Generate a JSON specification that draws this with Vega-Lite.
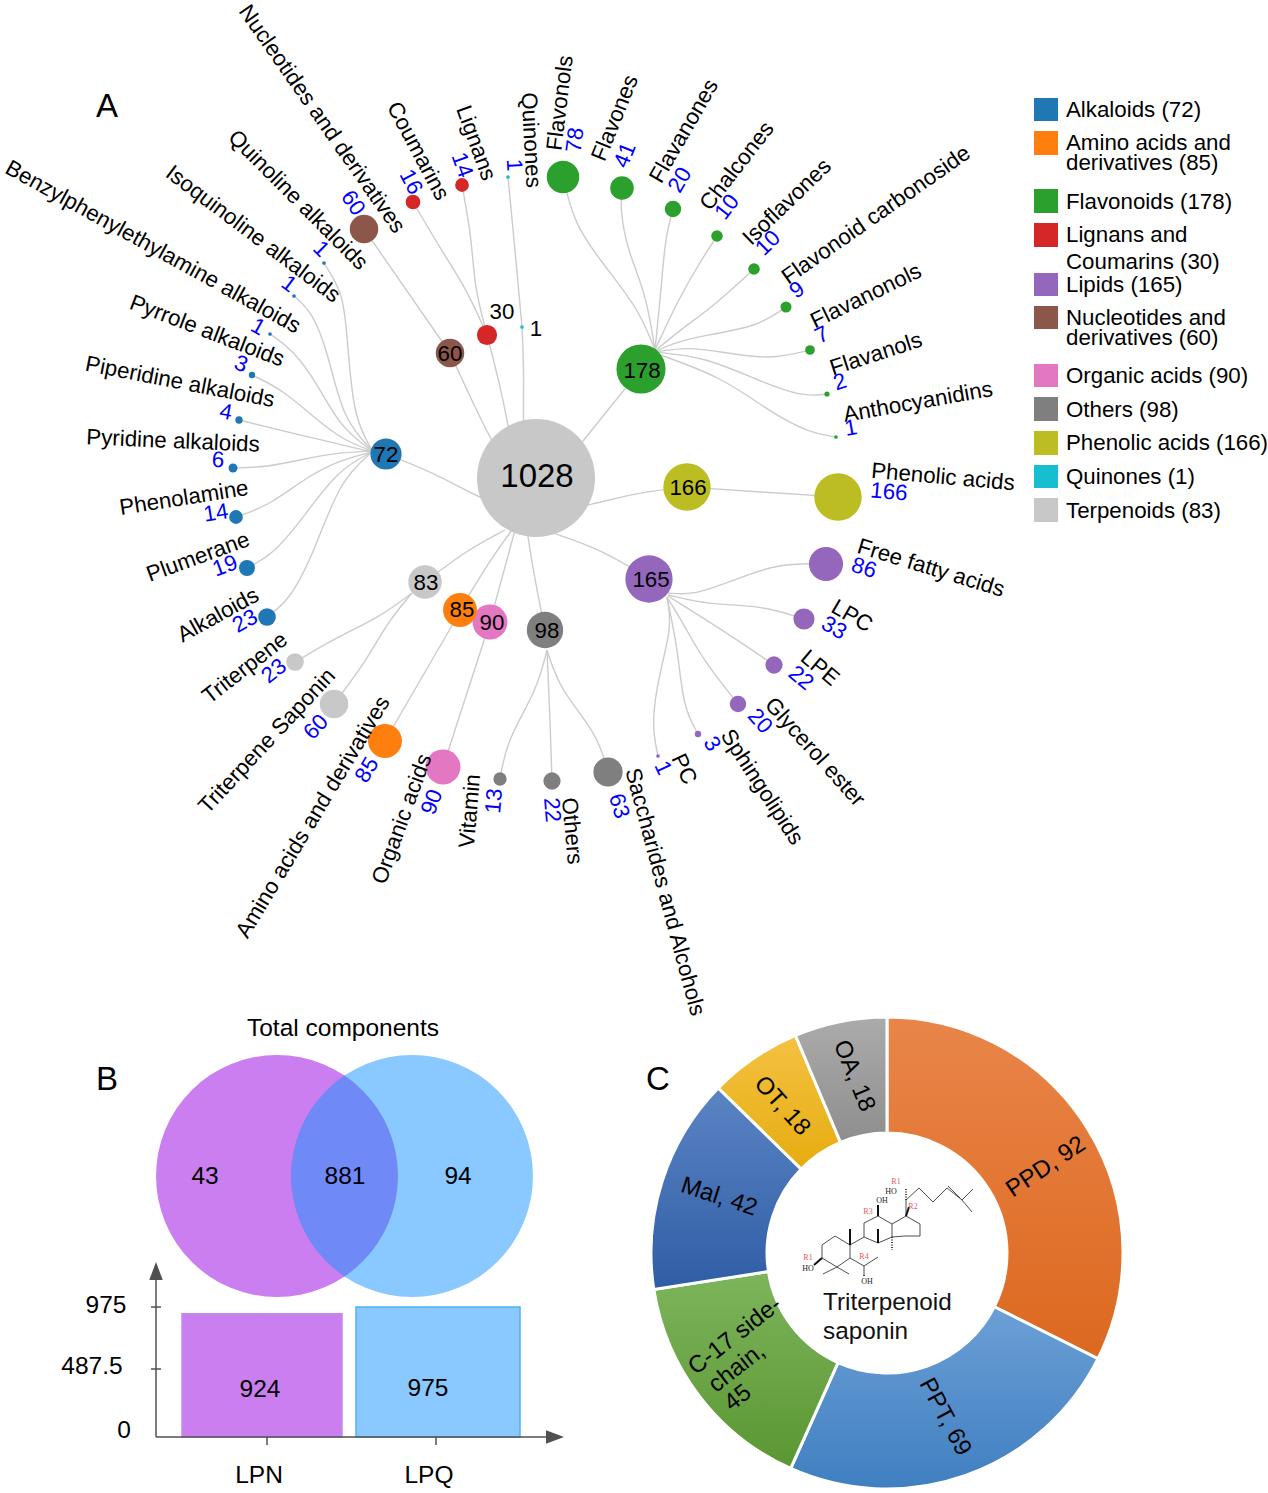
{"$schema":"https://vega.github.io/schema/vega-lite/v6.json","width":1268,"height":1493,"padding":0,"autosize":{"type":"none"},"background":"white","config":{"view":{"stroke":null},"font":"Liberation Sans"},
"encoding":{"x":{"field":"x","type":"quantitative","axis":null,"scale":{"domain":[0,1268],"nice":false,"zero":false}}},
"resolve":{"scale":{"y":"independent"}},
"layer":[
{"data":{"values":[{"s":"LPN","v":924,"x":182,"x2":342},{"s":"LPQ","v":975,"x":356,"x2":520}]},
"mark":{"type":"rect","strokeWidth":1.5},
"encoding":{"x2":{"field":"x2"},"y":{"field":"v","type":"quantitative","axis":null,"scale":{"domain":[0,975],"range":[1437,1307],"nice":false,"zero":false}},"y2":{"datum":0},
"fill":{"field":"s","type":"nominal","legend":null,"scale":{"domain":["LPN","LPQ"],"range":["#cb7eef","#89c9ff"]}},
"stroke":{"field":"s","type":"nominal","legend":null,"scale":{"domain":["LPN","LPQ"],"range":["#c08cec","#4db4ee"]}}}},
{"encoding":{"y":{"field":"y","type":"quantitative","axis":null,"scale":{"domain":[1493,0],"nice":false,"zero":false}}},
"layer":[
{"data":{"values":[
{"l":"Quinoline","o":0,"x":324,"y":263},{"l":"Quinoline","o":1,"x":343,"y":293},{"l":"Quinoline","o":2,"x":347,"y":333},{"l":"Quinoline","o":3,"x":353,"y":417},{"l":"Quinoline","o":4,"x":372,"y":450},
{"l":"Isoquinoline","o":0,"x":294,"y":296},{"l":"Isoquinoline","o":1,"x":313,"y":313},{"l":"Isoquinoline","o":2,"x":328,"y":353},{"l":"Isoquinoline","o":3,"x":343,"y":420},{"l":"Isoquinoline","o":4,"x":372,"y":450},
{"l":"Benzyl","o":0,"x":270,"y":334},{"l":"Benzyl","o":1,"x":293,"y":350},{"l":"Benzyl","o":2,"x":317,"y":383},{"l":"Benzyl","o":3,"x":340,"y":427},{"l":"Benzyl","o":4,"x":372,"y":451},
{"l":"Pyrrole","o":0,"x":252,"y":375},{"l":"Pyrrole","o":1,"x":283,"y":390},{"l":"Pyrrole","o":2,"x":317,"y":420},{"l":"Pyrrole","o":3,"x":343,"y":440},{"l":"Pyrrole","o":4,"x":372,"y":451},
{"l":"Piperidine","o":0,"x":239,"y":420},{"l":"Piperidine","o":1,"x":300,"y":435},{"l":"Piperidine","o":2,"x":372,"y":452},
{"l":"Pyridine","o":0,"x":233,"y":468},{"l":"Pyridine","o":1,"x":267,"y":467},{"l":"Pyridine","o":2,"x":300,"y":460},{"l":"Pyridine","o":3,"x":333,"y":453},{"l":"Pyridine","o":4,"x":372,"y":451},
{"l":"Phenolamine","o":0,"x":236,"y":517},{"l":"Phenolamine","o":1,"x":270,"y":505},{"l":"Phenolamine","o":2,"x":305,"y":478},{"l":"Phenolamine","o":3,"x":340,"y":460},{"l":"Phenolamine","o":4,"x":372,"y":452},
{"l":"Plumerane","o":0,"x":247,"y":568},{"l":"Plumerane","o":1,"x":275,"y":553},{"l":"Plumerane","o":2,"x":305,"y":515},{"l":"Plumerane","o":3,"x":338,"y":470},{"l":"Plumerane","o":4,"x":372,"y":452},
{"l":"Alk","o":0,"x":267,"y":617},{"l":"Alk","o":1,"x":290,"y":600},{"l":"Alk","o":2,"x":315,"y":550},{"l":"Alk","o":3,"x":340,"y":480},{"l":"Alk","o":4,"x":372,"y":452},
{"l":"A72","o":0,"x":386,"y":454},{"l":"A72","o":1,"x":430,"y":471},{"l":"A72","o":2,"x":480,"y":498},{"l":"A72","o":3,"x":510,"y":510},
{"l":"N1","o":0,"x":364,"y":229},{"l":"N1","o":1,"x":450,"y":353},
{"l":"N2","o":0,"x":450,"y":353},{"l":"N2","o":1,"x":490,"y":440},{"l":"N2","o":2,"x":510,"y":470},
{"l":"Coum","o":0,"x":413,"y":202},{"l":"Coum","o":1,"x":443,"y":253},{"l":"Coum","o":2,"x":467,"y":290},{"l":"Coum","o":3,"x":487,"y":335},
{"l":"Lig","o":0,"x":462,"y":185},{"l":"Lig","o":1,"x":472,"y":240},{"l":"Lig","o":2,"x":474,"y":285},{"l":"Lig","o":3,"x":487,"y":335},
{"l":"L30","o":0,"x":487,"y":335},{"l":"L30","o":1,"x":500,"y":385},{"l":"L30","o":2,"x":508,"y":425},{"l":"L30","o":3,"x":515,"y":460},
{"l":"Q1","o":0,"x":508,"y":177},{"l":"Q1","o":1,"x":515,"y":250},{"l":"Q1","o":2,"x":522,"y":327},
{"l":"Q2","o":0,"x":522,"y":327},{"l":"Q2","o":1,"x":524,"y":370},{"l":"Q2","o":2,"x":523,"y":425},{"l":"Q2","o":3,"x":525,"y":470},
{"l":"Flavonols","o":0,"x":563,"y":177},{"l":"Flavonols","o":1,"x":575,"y":227},{"l":"Flavonols","o":2,"x":608,"y":270},{"l":"Flavonols","o":3,"x":639,"y":310},{"l":"Flavonols","o":4,"x":655,"y":350},
{"l":"Flavones","o":0,"x":622,"y":188},{"l":"Flavones","o":1,"x":620,"y":207},{"l":"Flavones","o":2,"x":627,"y":250},{"l":"Flavones","o":3,"x":646,"y":293},{"l":"Flavones","o":4,"x":655,"y":350},
{"l":"Flavanones","o":0,"x":673,"y":209},{"l":"Flavanones","o":1,"x":665,"y":240},{"l":"Flavanones","o":2,"x":662,"y":280},{"l":"Flavanones","o":3,"x":655,"y":350},
{"l":"Chalcones","o":0,"x":717,"y":236},{"l":"Chalcones","o":1,"x":700,"y":262},{"l":"Chalcones","o":2,"x":678,"y":300},{"l":"Chalcones","o":3,"x":655,"y":350},
{"l":"Isoflavones","o":0,"x":754,"y":269},{"l":"Isoflavones","o":1,"x":715,"y":305},{"l":"Isoflavones","o":2,"x":680,"y":330},{"l":"Isoflavones","o":3,"x":655,"y":351},
{"l":"Carb","o":0,"x":786,"y":307},{"l":"Carb","o":1,"x":757,"y":327},{"l":"Carb","o":2,"x":705,"y":335},{"l":"Carb","o":3,"x":670,"y":344},{"l":"Carb","o":4,"x":655,"y":352},
{"l":"Flavanonols","o":0,"x":810,"y":350},{"l":"Flavanonols","o":1,"x":770,"y":360},{"l":"Flavanonols","o":2,"x":722,"y":352},{"l":"Flavanonols","o":3,"x":688,"y":347},{"l":"Flavanonols","o":4,"x":655,"y":352},
{"l":"Flavanols","o":0,"x":827,"y":394},{"l":"Flavanols","o":1,"x":802,"y":397},{"l":"Flavanols","o":2,"x":757,"y":380},{"l":"Flavanols","o":3,"x":705,"y":357},{"l":"Flavanols","o":4,"x":655,"y":352},
{"l":"Antho","o":0,"x":836,"y":437},{"l":"Antho","o":1,"x":809,"y":433},{"l":"Antho","o":2,"x":767,"y":410},{"l":"Antho","o":3,"x":722,"y":377},{"l":"Antho","o":4,"x":655,"y":353},
{"l":"F178","o":0,"x":641,"y":369},{"l":"F178","o":1,"x":582,"y":442},{"l":"F178","o":2,"x":560,"y":470},
{"l":"P1","o":0,"x":550,"y":513},{"l":"P1","o":1,"x":590,"y":505},{"l":"P1","o":2,"x":640,"y":492},{"l":"P1","o":3,"x":687,"y":487},
{"l":"P2","o":0,"x":687,"y":487},{"l":"P2","o":1,"x":760,"y":492},{"l":"P2","o":2,"x":838,"y":497},
{"l":"Lip","o":0,"x":540,"y":528},{"l":"Lip","o":1,"x":558,"y":535},{"l":"Lip","o":2,"x":600,"y":549},{"l":"Lip","o":3,"x":650,"y":579},
{"l":"FFA","o":0,"x":826,"y":564},{"l":"FFA","o":1,"x":777,"y":563},{"l":"FFA","o":2,"x":727,"y":583},{"l":"FFA","o":3,"x":693,"y":595},{"l":"FFA","o":4,"x":668,"y":593},
{"l":"LPC","o":0,"x":804,"y":619},{"l":"LPC","o":1,"x":760,"y":605},{"l":"LPC","o":2,"x":710,"y":605},{"l":"LPC","o":3,"x":668,"y":595},
{"l":"LPE","o":0,"x":774,"y":665},{"l":"LPE","o":1,"x":727,"y":633},{"l":"LPE","o":2,"x":668,"y":596},
{"l":"Gly","o":0,"x":738,"y":704},{"l":"Gly","o":1,"x":703,"y":660},{"l":"Gly","o":2,"x":683,"y":623},{"l":"Gly","o":3,"x":667,"y":597},
{"l":"Sph","o":0,"x":698,"y":734},{"l":"Sph","o":1,"x":683,"y":707},{"l":"Sph","o":2,"x":678,"y":650},{"l":"Sph","o":3,"x":667,"y":597},
{"l":"PC","o":0,"x":658,"y":756},{"l":"PC","o":1,"x":651,"y":723},{"l":"PC","o":2,"x":660,"y":670},{"l":"PC","o":3,"x":672,"y":627},{"l":"PC","o":4,"x":667,"y":597},
{"l":"Vit","o":0,"x":500,"y":779},{"l":"Vit","o":1,"x":507,"y":740},{"l":"Vit","o":2,"x":537,"y":690},{"l":"Vit","o":3,"x":547,"y":650},
{"l":"Oth","o":0,"x":552,"y":781},{"l":"Oth","o":1,"x":550,"y":717},{"l":"Oth","o":2,"x":547,"y":650},
{"l":"Sac","o":0,"x":608,"y":772},{"l":"Sac","o":1,"x":597,"y":733},{"l":"Sac","o":2,"x":560,"y":690},{"l":"Sac","o":3,"x":547,"y":650},
{"l":"O98","o":0,"x":545,"y":630},{"l":"O98","o":1,"x":533,"y":570},{"l":"O98","o":2,"x":527,"y":530},
{"l":"O90","o":0,"x":490,"y":622},{"l":"O90","o":1,"x":515,"y":530},
{"l":"A85","o":0,"x":460,"y":610},{"l":"A85","o":1,"x":490,"y":560},{"l":"A85","o":2,"x":512,"y":530},
{"l":"T83","o":0,"x":425,"y":582},{"l":"T83","o":1,"x":467,"y":550},{"l":"T83","o":2,"x":505,"y":530},
{"l":"Tri","o":0,"x":295,"y":662},{"l":"Tri","o":1,"x":337,"y":637},{"l":"Tri","o":2,"x":380,"y":617},{"l":"Tri","o":3,"x":412,"y":593},
{"l":"Sap","o":0,"x":334,"y":704},{"l":"Sap","o":1,"x":367,"y":660},{"l":"Sap","o":2,"x":387,"y":623},{"l":"Sap","o":3,"x":412,"y":593},
{"l":"Am","o":0,"x":461,"y":610},{"l":"Am","o":1,"x":385,"y":741},
{"l":"Org","o":0,"x":490,"y":622},{"l":"Org","o":1,"x":443,"y":767}
]},"mark":{"type":"line","interpolate":"basis","stroke":"#cccccc","strokeWidth":1.4},"encoding":{"detail":{"field":"l"},"order":{"field":"o","type":"quantitative"}}},
{"data":{"values":[
{"n":"Total","v":1028,"g":"Total","x":536,"y":478},
{"n":"A","v":72,"g":"Alkaloids","x":386,"y":454},{"n":"N","v":60,"g":"Nucleotides","x":450,"y":353},{"n":"L","v":30,"g":"Lignans","x":487,"y":335},{"n":"Q","v":1,"g":"Quinones","x":522,"y":327},{"n":"F","v":178,"g":"Flavonoids","x":641,"y":369},{"n":"P","v":166,"g":"Phenolic","x":687,"y":487},{"n":"Li","v":165,"g":"Lipids","x":649,"y":579},{"n":"O","v":98,"g":"Others","x":545,"y":630},{"n":"Or","v":90,"g":"Organic","x":490,"y":622},{"n":"Am","v":85,"g":"Amino","x":460,"y":610},{"n":"T","v":83,"g":"Terpenoids","x":425,"y":582},
{"n":"Quinoline","v":1,"g":"Alkaloids","x":324,"y":263},{"n":"Isoquinoline","v":1,"g":"Alkaloids","x":294,"y":296},{"n":"Benzyl","v":1,"g":"Alkaloids","x":270,"y":334},{"n":"Pyrrole","v":3,"g":"Alkaloids","x":252,"y":375},{"n":"Piperidine","v":4,"g":"Alkaloids","x":239,"y":420},{"n":"Pyridine","v":6,"g":"Alkaloids","x":233,"y":468},{"n":"Phenolamine","v":14,"g":"Alkaloids","x":236,"y":517},{"n":"Plumerane","v":19,"g":"Alkaloids","x":247,"y":568},{"n":"Alk","v":23,"g":"Alkaloids","x":267,"y":617},
{"n":"Triterpene","v":23,"g":"Terpenoids","x":295,"y":662},{"n":"Saponin","v":60,"g":"Terpenoids","x":334,"y":704},{"n":"AminoL","v":85,"g":"Amino","x":385,"y":741},{"n":"OrgL","v":90,"g":"Organic","x":443,"y":767},{"n":"Vit","v":13,"g":"Others","x":500,"y":779},{"n":"Oth","v":22,"g":"Others","x":552,"y":781},{"n":"Sac","v":63,"g":"Others","x":608,"y":772},
{"n":"PC","v":1,"g":"Lipids","x":658,"y":756},{"n":"Sph","v":3,"g":"Lipids","x":698,"y":734},{"n":"Gly","v":20,"g":"Lipids","x":738,"y":704},{"n":"LPE","v":22,"g":"Lipids","x":774,"y":665},{"n":"LPC","v":33,"g":"Lipids","x":804,"y":619},{"n":"FFA","v":86,"g":"Lipids","x":826,"y":564},
{"n":"PL","v":166,"g":"Phenolic","x":838,"y":497},{"n":"QL","v":1,"g":"Quinones","x":508,"y":177},
{"n":"Flavonols","v":78,"g":"Flavonoids","x":563,"y":177},{"n":"Flavones","v":41,"g":"Flavonoids","x":622,"y":188},{"n":"Flavanones","v":20,"g":"Flavonoids","x":673,"y":209},{"n":"Chalcones","v":10,"g":"Flavonoids","x":717,"y":236},{"n":"Isoflavones","v":10,"g":"Flavonoids","x":754,"y":269},{"n":"Carb","v":9,"g":"Flavonoids","x":786,"y":307},{"n":"Flavanonols","v":7,"g":"Flavonoids","x":810,"y":350},{"n":"Flavanols","v":2,"g":"Flavonoids","x":827,"y":394},{"n":"Antho","v":1,"g":"Flavonoids","x":836,"y":437},
{"n":"Coum","v":16,"g":"Lignans","x":413,"y":202},{"n":"Lig","v":14,"g":"Lignans","x":462,"y":185},{"n":"NL","v":60,"g":"Nucleotides","x":364,"y":229}
]},"mark":{"type":"circle","opacity":1},"encoding":{"size":{"field":"v","type":"quantitative","legend":null,"scale":{"domain":[0,1028],"range":[0,13924]}},"color":{"field":"g","type":"nominal","legend":null,"scale":{"domain":["Total","Alkaloids","Amino","Flavonoids","Lignans","Lipids","Nucleotides","Organic","Others","Phenolic","Quinones","Terpenoids"],"range":["#c8c8c8","#1f77b4","#ff7f0e","#2ca02c","#d62728","#9467bd","#8c564b","#e377c2","#7f7f7f","#bcbd22","#17becf","#c8c8c8"]}}}},
{"data":{"values":[
{"g":"Alkaloids","x":1034,"x2":1058,"y":98,"y2":121},{"g":"Amino","x":1034,"x2":1058,"y":131,"y2":155},{"g":"Flavonoids","x":1034,"x2":1058,"y":189,"y2":213},{"g":"Lignans","x":1034,"x2":1058,"y":223,"y2":247},{"g":"Lipids","x":1034,"x2":1058,"y":273,"y2":296},{"g":"Nucleotides","x":1034,"x2":1058,"y":306,"y2":329},{"g":"Organic","x":1034,"x2":1058,"y":364,"y2":387},{"g":"Others","x":1034,"x2":1058,"y":397,"y2":421},{"g":"Phenolic","x":1034,"x2":1058,"y":431,"y2":455},{"g":"Quinones","x":1034,"x2":1058,"y":465,"y2":488},{"g":"Terpenoids","x":1034,"x2":1058,"y":498,"y2":522}
]},"mark":{"type":"rect"},"encoding":{"x2":{"field":"x2"},"y2":{"field":"y2"},"color":{"field":"g","type":"nominal","legend":null}}},
{"data":{"values":[
{"t":"Alkaloids (72)","x":1066,"y":110},{"t":"Amino acids and","x":1066,"y":143},{"t":"derivatives (85)","x":1066,"y":163},{"t":"Flavonoids (178)","x":1066,"y":202},{"t":"Lignans and","x":1066,"y":235},{"t":"Coumarins (30)","x":1066,"y":262},{"t":"Lipids (165)","x":1066,"y":285},{"t":"Nucleotides and","x":1066,"y":318},{"t":"derivatives (60)","x":1066,"y":338},{"t":"Organic acids (90)","x":1066,"y":376},{"t":"Others (98)","x":1066,"y":410},{"t":"Phenolic acids (166)","x":1066,"y":443},{"t":"Quinones (1)","x":1066,"y":477},{"t":"Terpenoids (83)","x":1066,"y":511}
]},"mark":{"type":"text","align":"left","baseline":"middle","fontSize":22.3,"font":"Liberation Sans","color":"#000000"},"encoding":{"text":{"field":"t"}}},
{"data":{"values":[
{"t":"Nucleotides and derivatives","x":322,"y":119,"a":55},{"t":"Coumarins","x":418,"y":151,"a":62},{"t":"Lignans","x":476,"y":143,"a":70},{"t":"Quinones","x":531,"y":140,"a":87},{"t":"Flavonols","x":560,"y":103,"a":-83},{"t":"Flavones","x":615,"y":118,"a":-68},{"t":"Flavanones","x":684,"y":131,"a":-60},{"t":"Chalcones","x":737,"y":166,"a":-52},{"t":"Isoflavones","x":787,"y":202,"a":-44},{"t":"Flavonoid carbonoside","x":876,"y":215,"a":-35},{"t":"Flavanonols","x":866,"y":296,"a":-26},{"t":"Flavanols","x":876,"y":354,"a":-18},{"t":"Anthocyanidins","x":918,"y":402,"a":-10},{"t":"Phenolic acids","x":943,"y":477,"a":5},{"t":"Free fatty acids","x":931,"y":568,"a":17},{"t":"LPC","x":852,"y":616,"a":30},{"t":"LPE","x":820,"y":668,"a":40},{"t":"Glycerol ester","x":815,"y":752,"a":48},{"t":"Sphingolipids","x":762,"y":787,"a":57},{"t":"PC","x":684,"y":769,"a":65},{"t":"Saccharides and Alcohols","x":665,"y":892,"a":75},{"t":"Others","x":572,"y":831,"a":85},{"t":"Vitamin","x":470,"y":811,"a":-85},{"t":"Organic acids","x":402,"y":819,"a":-70},{"t":"Amino acids and derivatives","x":313,"y":817,"a":-59},{"t":"Triterpene Saponin","x":267,"y":741,"a":-47},{"t":"Triterpene","x":245,"y":668,"a":-38},{"t":"Alkaloids","x":218,"y":615,"a":-29},{"t":"Plumerane","x":198,"y":557,"a":-20},{"t":"Phenolamine","x":184,"y":498,"a":-9},{"t":"Pyridine alkaloids","x":173,"y":441,"a":2.5},{"t":"Piperidine alkaloids","x":180,"y":382,"a":11},{"t":"Pyrrole alkaloids","x":207,"y":331,"a":21},{"t":"Benzylphenylethylamine alkaloids","x":153,"y":247,"a":29},{"t":"Isoquinoline alkaloids","x":253,"y":234,"a":37},{"t":"Quinoline alkaloids","x":298,"y":200,"a":45},
{"t":"30","x":502,"y":312,"a":0},{"t":"1","x":536,"y":329,"a":0},{"t":"72","x":386,"y":455,"a":0},{"t":"60","x":450,"y":354,"a":0},{"t":"178","x":642,"y":371,"a":0},{"t":"166","x":688,"y":488,"a":0},{"t":"165","x":651,"y":580,"a":0},{"t":"98","x":547,"y":631,"a":0},{"t":"90","x":492,"y":623,"a":0},{"t":"85","x":462,"y":610,"a":0},{"t":"83","x":426,"y":583,"a":0}
]},"mark":{"type":"text","align":"center","baseline":"middle","fontSize":22.3,"font":"Liberation Sans","color":"#000000"},"encoding":{"text":{"field":"t"},"angle":{"field":"a","type":"quantitative","scale":null}}},
{"data":{"values":[
{"t":"60","x":353,"y":203,"a":55},{"t":"16","x":411,"y":182,"a":62},{"t":"14","x":462,"y":165,"a":70},{"t":"1","x":514,"y":165,"a":87},{"t":"78","x":575,"y":140,"a":-83},{"t":"41","x":625,"y":155,"a":-68},{"t":"20","x":680,"y":180,"a":-60},{"t":"10","x":727,"y":207,"a":-52},{"t":"10","x":768,"y":243,"a":-44},{"t":"9","x":797,"y":290,"a":-35},{"t":"7","x":822,"y":335,"a":-26},{"t":"2","x":840,"y":382,"a":-18},{"t":"1","x":851,"y":428,"a":-10},{"t":"166","x":889,"y":492,"a":5},{"t":"86","x":864,"y":568,"a":17},{"t":"33","x":834,"y":628,"a":30},{"t":"22","x":801,"y":678,"a":40},{"t":"20","x":760,"y":721,"a":48},{"t":"3","x":712,"y":744,"a":57},{"t":"1","x":663,"y":768,"a":65},{"t":"63","x":619,"y":806,"a":73},{"t":"22","x":552,"y":810,"a":85},{"t":"13","x":494,"y":801,"a":-85},{"t":"90","x":432,"y":802,"a":-70},{"t":"85","x":367,"y":770,"a":-59},{"t":"60","x":316,"y":727,"a":-47},{"t":"23","x":274,"y":671,"a":-38},{"t":"23","x":245,"y":621,"a":-29},{"t":"19","x":225,"y":566,"a":-20},{"t":"14","x":216,"y":513,"a":-9},{"t":"6","x":218,"y":460,"a":2.5},{"t":"4","x":226,"y":412,"a":11},{"t":"3","x":241,"y":364,"a":21},{"t":"1","x":258,"y":327,"a":29},{"t":"1","x":289,"y":284,"a":37},{"t":"1","x":321,"y":249,"a":45}
]},"mark":{"type":"text","align":"center","baseline":"middle","fontSize":22.3,"font":"Liberation Sans","color":"#0000ff"},"encoding":{"text":{"field":"t"},"angle":{"field":"a","type":"quantitative","scale":null}}},
{"data":{"values":[
{"t":"1028","x":537,"y":477},{"t":"A","x":107,"y":107},{"t":"B","x":107,"y":1080},{"t":"C","x":658,"y":1080}
]},"mark":{"type":"text","align":"center","baseline":"middle","fontSize":33,"font":"Liberation Sans","color":"#000000"},"encoding":{"text":{"field":"t"}}},
{"data":{"values":[{"x":277,"y":1176}]},"mark":{"type":"point","filled":true,"shape":"circle","opacity":1,"fill":"#cb7eef","stroke":null,"size":58564}},
{"data":{"values":[{"x":412,"y":1176}]},"mark":{"type":"point","filled":true,"shape":"circle","opacity":0.5,"fill":"#1393ff","stroke":null,"size":58564}},
{"data":{"values":[{"t":"43","x":205,"y":1177},{"t":"881","x":345,"y":1177},{"t":"94","x":458,"y":1177},{"t":"924","x":260,"y":1390},{"t":"975","x":428,"y":1389},{"t":"975","x":106,"y":1306},{"t":"487.5","x":92,"y":1367},{"t":"0","x":124,"y":1431},{"t":"LPN","x":259,"y":1476},{"t":"LPQ","x":429,"y":1476}]},"mark":{"type":"text","align":"center","baseline":"middle","fontSize":24.5,"font":"Liberation Sans","color":"#000000"},"encoding":{"text":{"field":"t"}}},
{"data":{"values":[{"t":"Total components","x":343,"y":1029}]},"mark":{"type":"text","align":"center","baseline":"middle","fontSize":24.5,"font":"Liberation Sans","color":"#000000"},"encoding":{"text":{"field":"t"}}},
{"data":{"values":[
{"l":"yaxis","o":0,"x":156,"y":1437},{"l":"yaxis","o":1,"x":156,"y":1275},{"l":"xaxis","o":0,"x":156,"y":1437},{"l":"xaxis","o":1,"x":550,"y":1437},
{"l":"t1","o":0,"x":151,"y":1307},{"l":"t1","o":1,"x":161,"y":1307},{"l":"t2","o":0,"x":151,"y":1369},{"l":"t2","o":1,"x":161,"y":1369},{"l":"t3","o":0,"x":267,"y":1437},{"l":"t3","o":1,"x":267,"y":1445},{"l":"t4","o":0,"x":436,"y":1437},{"l":"t4","o":1,"x":436,"y":1445}
]},"mark":{"type":"line","stroke":"#505050","strokeWidth":1.5},"encoding":{"detail":{"field":"l"},"order":{"field":"o","type":"quantitative"}}},
{"data":{"values":[{"x":156,"y":1271}]},"mark":{"type":"point","shape":"M0,-1L0.75,1L-0.75,1Z","filled":true,"fill":"#505050","stroke":null,"opacity":1,"size":324}},
{"data":{"values":[{"x":555,"y":1437}]},"mark":{"type":"point","shape":"M1,0L-1,0.75L-1,-0.75Z","filled":true,"fill":"#505050","stroke":null,"opacity":1,"size":324}},
{"data":{"values":[{"s":"PPD, 92","v":92,"k":1,"x":887,"y":1253},{"s":"PPT, 69","v":69,"k":2,"x":887,"y":1253},{"s":"C-17","v":45,"k":3,"x":887,"y":1253},{"s":"Mal, 42","v":42,"k":4,"x":887,"y":1253},{"s":"OT, 18","v":18,"k":5,"x":887,"y":1253},{"s":"OA, 18","v":18,"k":6,"x":887,"y":1253}]},
"transform":[{"stack":"v","sort":[{"field":"k"}],"groupby":[],"as":["t0","t1"]}],
"encoding":{"theta":{"field":"t0","type":"quantitative","stack":null,"scale":{"domain":[0,284],"range":[0,6.2832]}},"theta2":{"field":"t1"}},
"layer":[
{"transform":[{"filter":"datum.k==1"}],"mark":{"type":"arc","radius":236,"radius2":120,"stroke":"#ffffff","strokeWidth":3,"fill":{"gradient":"linear","x1":0,"y1":0,"x2":0,"y2":1,"stops":[{"offset":0,"color":"#e98549"},{"offset":1,"color":"#dc681f"}]}}},
{"transform":[{"filter":"datum.k==2"}],"mark":{"type":"arc","radius":236,"radius2":120,"stroke":"#ffffff","strokeWidth":3,"fill":{"gradient":"linear","x1":0,"y1":0,"x2":0,"y2":1,"stops":[{"offset":0,"color":"#6c9fd6"},{"offset":1,"color":"#3f7fc0"}]}}},
{"transform":[{"filter":"datum.k==3"}],"mark":{"type":"arc","radius":236,"radius2":120,"stroke":"#ffffff","strokeWidth":3,"fill":{"gradient":"linear","x1":0,"y1":0,"x2":0,"y2":1,"stops":[{"offset":0,"color":"#7db55c"},{"offset":1,"color":"#5a9632"}]}}},
{"transform":[{"filter":"datum.k==4"}],"mark":{"type":"arc","radius":236,"radius2":120,"stroke":"#ffffff","strokeWidth":3,"fill":{"gradient":"linear","x1":0,"y1":0,"x2":0,"y2":1,"stops":[{"offset":0,"color":"#5b84c4"},{"offset":1,"color":"#2f5da5"}]}}},
{"transform":[{"filter":"datum.k==5"}],"mark":{"type":"arc","radius":236,"radius2":120,"stroke":"#ffffff","strokeWidth":3,"fill":{"gradient":"linear","x1":0,"y1":0,"x2":0,"y2":1,"stops":[{"offset":0,"color":"#f5c242"},{"offset":1,"color":"#e6ac10"}]}}},
{"transform":[{"filter":"datum.k==6"}],"mark":{"type":"arc","radius":236,"radius2":120,"stroke":"#ffffff","strokeWidth":3,"fill":{"gradient":"linear","x1":0,"y1":0,"x2":0,"y2":1,"stops":[{"offset":0,"color":"#ababab"},{"offset":1,"color":"#8e8e8e"}]}}}
]},
{"data":{"values":[{"t":"PPD, 92","x":1046,"y":1167,"a":-34},{"t":"PPT, 69","x":945,"y":1417,"a":62},{"t":"C-17 side-","x":735,"y":1336,"a":-38},{"t":"chain,","x":737,"y":1368,"a":-38},{"t":"45","x":738,"y":1398,"a":-38},{"t":"Mal, 42","x":719,"y":1197,"a":18},{"t":"OT, 18","x":782,"y":1106,"a":48},{"t":"OA, 18","x":854,"y":1076,"a":68}]},"mark":{"type":"text","align":"center","baseline":"middle","fontSize":24,"font":"Liberation Sans","color":"#000000"},"encoding":{"text":{"field":"t"},"angle":{"field":"a","type":"quantitative","scale":null}}},
{"data":{"values":[{"t":"Triterpenoid","x":823,"y":1303},{"t":"saponin","x":823,"y":1332}]},"mark":{"type":"text","align":"left","baseline":"middle","fontSize":24.3,"font":"Liberation Sans","color":"#111111"},"encoding":{"text":{"field":"t"}}},
{"data":{"values":[
{"l":"A","o":0,"x":822,"y":1245},{"l":"A","o":1,"x":835,"y":1236},{"l":"A","o":2,"x":850,"y":1245},{"l":"A","o":3,"x":850,"y":1258},{"l":"A","o":4,"x":837,"y":1267},{"l":"A","o":5,"x":822,"y":1258},{"l":"A","o":6,"x":822,"y":1245},
{"l":"B","o":0,"x":850,"y":1258},{"l":"B","o":1,"x":864,"y":1266},{"l":"B","o":2,"x":878,"y":1257},
{"l":"BC","o":0,"x":850,"y":1245},{"l":"BC","o":1,"x":864,"y":1237},
{"l":"C","o":0,"x":864,"y":1237},{"l":"C","o":1,"x":864,"y":1223},{"l":"C","o":2,"x":878,"y":1216},{"l":"C","o":3,"x":892,"y":1224},{"l":"C","o":4,"x":892,"y":1237},{"l":"C","o":5,"x":878,"y":1243},{"l":"C","o":6,"x":864,"y":1237},
{"l":"D","o":0,"x":892,"y":1224},{"l":"D","o":1,"x":906,"y":1216},{"l":"D","o":2,"x":920,"y":1224},{"l":"D","o":3,"x":920,"y":1236},{"l":"D","o":4,"x":905,"y":1236},{"l":"D","o":5,"x":892,"y":1237},
{"l":"S","o":0,"x":906,"y":1216},{"l":"S","o":1,"x":906,"y":1200},{"l":"S","o":2,"x":919,"y":1188},{"l":"S","o":3,"x":933,"y":1202},{"l":"S","o":4,"x":947,"y":1188},{"l":"S","o":5,"x":962,"y":1200},{"l":"S","o":6,"x":973,"y":1189},
{"l":"S2","o":0,"x":962,"y":1200},{"l":"S2","o":1,"x":972,"y":1212},{"l":"S3","o":0,"x":948,"y":1186},{"l":"S3","o":1,"x":960,"y":1198},
{"l":"M1","o":0,"x":837,"y":1267},{"l":"M1","o":1,"x":823,"y":1274},{"l":"M2","o":0,"x":837,"y":1267},{"l":"M2","o":1,"x":849,"y":1274},
{"l":"M3","o":0,"x":864,"y":1266},{"l":"M3","o":1,"x":864,"y":1275}
]},"mark":{"type":"line","stroke":"#222222","strokeWidth":0.8},"encoding":{"detail":{"field":"l"},"order":{"field":"o","type":"quantitative"}}},
{"data":{"values":[
{"l":"W1","o":0,"x":850,"y":1245},{"l":"W1","o":1,"x":850,"y":1229},{"l":"W2","o":0,"x":878,"y":1243},{"l":"W2","o":1,"x":878,"y":1229},{"l":"W3","o":0,"x":878,"y":1216},{"l":"W3","o":1,"x":878,"y":1205},{"l":"W4","o":0,"x":822,"y":1258},{"l":"W4","o":1,"x":814,"y":1265},{"l":"W5","o":0,"x":906,"y":1216},{"l":"W5","o":1,"x":909,"y":1207}
]},"mark":{"type":"line","stroke":"#111111","strokeWidth":2},"encoding":{"detail":{"field":"l"},"order":{"field":"o","type":"quantitative"}}},
{"data":{"values":[
{"l":"D1","o":0,"x":892,"y":1237},{"l":"D1","o":1,"x":892,"y":1250},{"l":"D2","o":0,"x":906,"y":1200},{"l":"D2","o":1,"x":906,"y":1188},{"l":"D3","o":0,"x":864,"y":1275},{"l":"D3","o":1,"x":864,"y":1277}
]},"mark":{"type":"line","stroke":"#111111","strokeWidth":1.5,"strokeDash":[1,1.5]},"encoding":{"detail":{"field":"l"},"order":{"field":"o","type":"quantitative"}}},
{"data":{"values":[{"t":"HO","x":808,"y":1269},{"t":"OH","x":867,"y":1282},{"t":"OH","x":882,"y":1201},{"t":"HO","x":891,"y":1192}]},"mark":{"type":"text","align":"center","baseline":"middle","fontSize":8,"font":"Liberation Serif","color":"#222222"},"encoding":{"text":{"field":"t"}}},
{"data":{"values":[{"t":"R1","x":808,"y":1258},{"t":"R4","x":864,"y":1257},{"t":"R3","x":868,"y":1212},{"t":"R1","x":896,"y":1182},{"t":"R2","x":913,"y":1207}]},"mark":{"type":"text","align":"center","baseline":"middle","fontSize":8,"font":"Liberation Serif","color":"#e85a5a"},"encoding":{"text":{"field":"t"}}}
]}
]}
